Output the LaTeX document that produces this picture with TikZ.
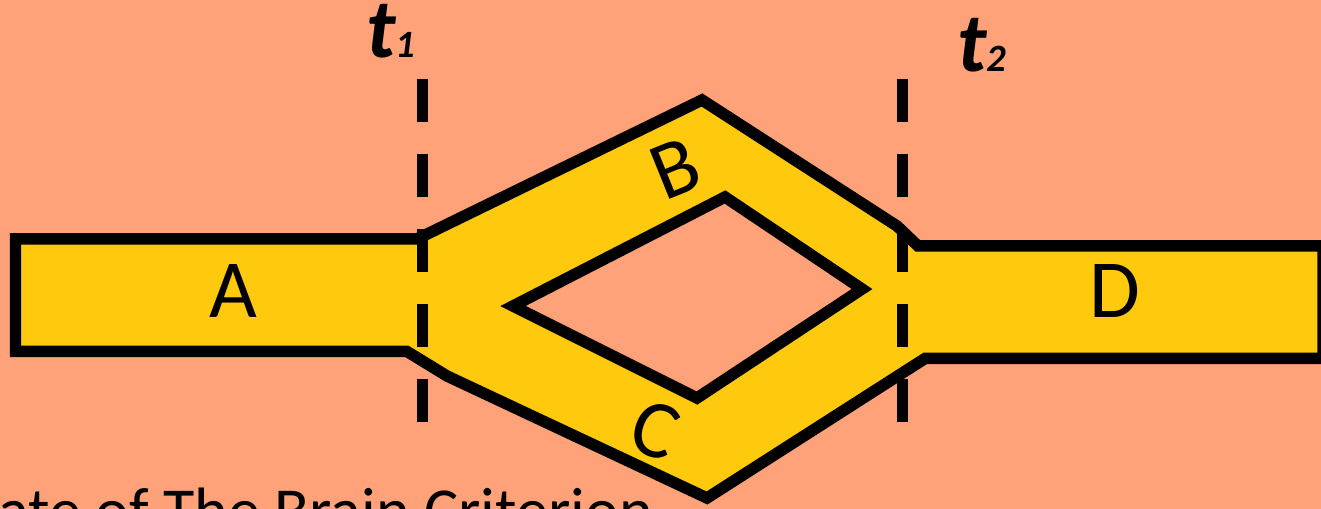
\documentclass[tikz,border=0pt]{standalone}
\usepackage{fontspec}
\setmainfont{Carlito}
\definecolor{bgSalmon}{HTML}{FFA27A}
\definecolor{pipeGold}{HTML}{FFC90E}
\tikzset{
  pipeBody/.style={
    fill=pipeGold,
    draw=black,
    line width=0.23cm,
    line join=miter,
    even odd rule
  },
  cutLine/.style={
    draw=black,
    line width=0.22cm,
    dash pattern=on 0.86cm off 0.64cm
  },
  pipeLabel/.style={
    font=\fontsize{47}{47}\selectfont,
    inner sep=0pt
  },
  timeLabel/.style={
    font=\fontsize{48}{48}\selectfont\bfseries\itshape,
    inner sep=0pt,
    anchor=base west
  },
  footLabel/.style={
    font=\fontsize{36.5}{36.5}\selectfont,
    inner sep=0pt,
    anchor=base west
  }
}

\begin{document}
\begin{tikzpicture}[x=0.02cm, y=-0.02cm]
  \useasboundingbox (0,0) rectangle (1321,509);
  \clip (0,0) rectangle (1321,509);
  \fill[bgSalmon] (0,0) rectangle (1321,509);

  % pipe: A, split into B and C, join into D
  \path[pipeBody]
    (15.5,239) -- (417,239) -- (702,100) -- (897,226) -- (918,246) -- (1323,246)
    -- (1323,358.5) -- (925,358.5) -- (707,498) -- (447,376) -- (407,351.5)
    -- (15.5,351.5) -- cycle
    (513,306) -- (725,197) -- (862,289) -- (697,398) -- cycle;

  % cut times
  \coordinate (cutOneTop) at (422,79);
  \coordinate (cutOneBot) at (422,422);
  \coordinate (cutTwoTop) at (902.5,79);
  \coordinate (cutTwoBot) at (902.5,422);
  \draw[cutLine] (cutOneTop) -- (cutOneBot);
  \draw[cutLine] (cutTwoTop) -- (cutTwoBot);

  \node[timeLabel] (tOne) at (366,58) {t{\fontsize{22}{22}\selectfont 1}};
  \node[timeLabel] (tTwo) at (957,72) {t{\fontsize{22}{22}\selectfont 2}};

  \node[pipeLabel] (segA) at (233,291.5) {A};
  \node[pipeLabel, rotate=22] (segB) at (675,169) {B};
  \node[pipeLabel, rotate=-20] (segC) at (655,430) {C};
  \node[pipeLabel] (segD) at (1115,291.5) {D};

  \node[footLabel] (foot) at (-2,532) {ate of The Brain Criterion};
\end{tikzpicture}
\end{document}
